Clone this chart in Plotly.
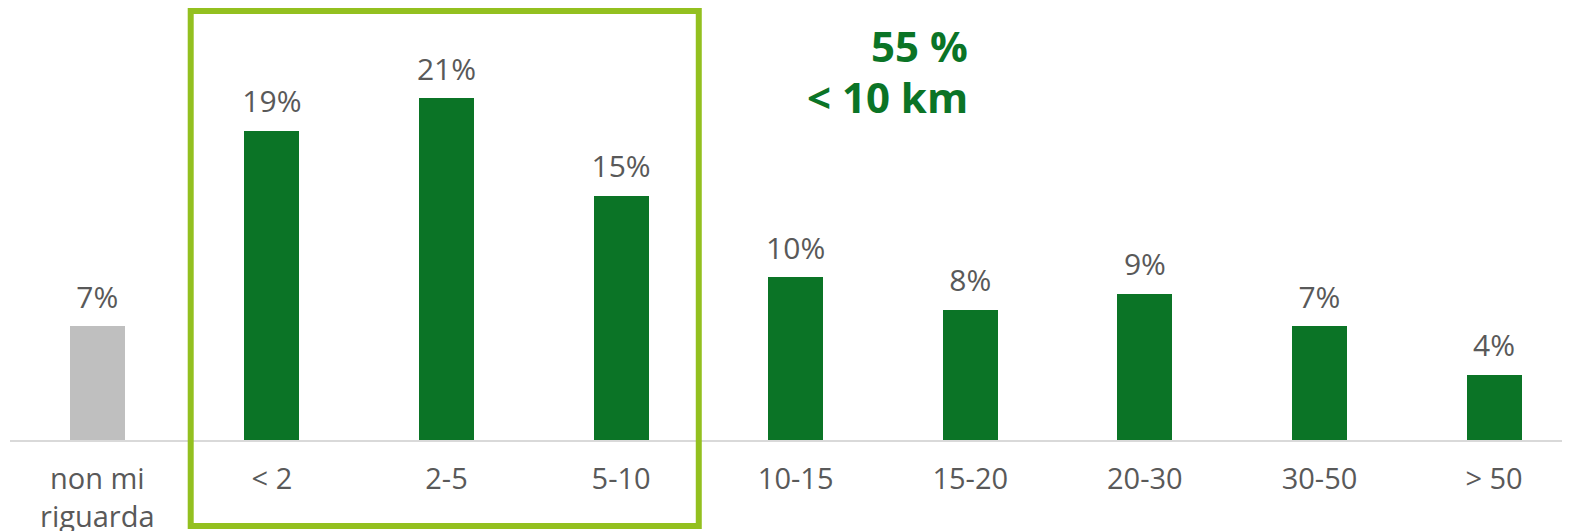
import plotly.graph_objects as go

categories = ["non mi<br>riguarda", "< 2", "2-5", "5-10", "10-15", "15-20", "20-30", "30-50", "> 50"]
values = [7, 19, 21, 15, 10, 8, 9, 7, 4]
labels = ["7%", "19%", "21%", "15%", "10%", "8%", "9%", "7%", "4%"]
bar_colors = ["#BFBFBF"] + ["#0B7426"] * 8
highlight_line1 = "55 %"
highlight_line2 = "< 10 km"

x_idx = list(range(len(categories)))

fig = go.Figure()
fig.add_trace(go.Bar(
    x=x_idx, y=values, width=0.315,
    marker=dict(color=bar_colors, line=dict(width=0)),
    hoverinfo="skip",
))
fig.add_trace(go.Scatter(
    x=x_idx, y=values, mode="markers+text",
    marker=dict(size=16, opacity=0),
    text=labels, textposition="top center",
    textfont=dict(family="Open Sans", size=30, color="#595959"),
    cliponaxis=False, hoverinfo="skip",
))

fig.add_shape(type="rect", xref="x", yref="paper",
              x0=0.535, x1=3.445, y0=-0.199, y1=0.993,
              line=dict(color="#93C01F", width=6), fillcolor="rgba(0,0,0,0)", layer="above")

fig.add_annotation(x=5.0, xref="x", y=(440 - 46) / 432, yref="paper", text="<b>" + highlight_line1 + "</b>",
                   showarrow=False, xanchor="right", yanchor="middle", align="right",
                   font=dict(family="Open Sans", size=42, color="#0B7426"))
fig.add_annotation(x=5.0, xref="x", y=(440 - 97) / 432, yref="paper", text="<b>" + highlight_line2 + "</b>",
                   showarrow=False, xanchor="right", yanchor="middle", align="right",
                   font=dict(family="Open Sans", size=42, color="#0B7426"))

fig.update_layout(
    width=1570, height=531,
    margin=dict(l=2, r=8, t=0, b=99),
    plot_bgcolor="white", paper_bgcolor="white",
    showlegend=False,
    bargap=0,
    xaxis=dict(range=[-0.5, 8.435], tickmode="array", tickvals=x_idx, ticktext=categories,
               showline=True, linecolor="#D9D9D9", linewidth=2, showgrid=False, zeroline=False,
               ticks="", tickfont=dict(family="Open Sans", size=29, color="#595959"),
               ticklabelstandoff=12),
    yaxis=dict(range=[0, 26.54], visible=False, showgrid=False, zeroline=False),
)

fig.write_html("out.html", config={"displayModeBar": False},
               post_script="document.documentElement.style.overflow='hidden';document.body.style.overflow='hidden';")
